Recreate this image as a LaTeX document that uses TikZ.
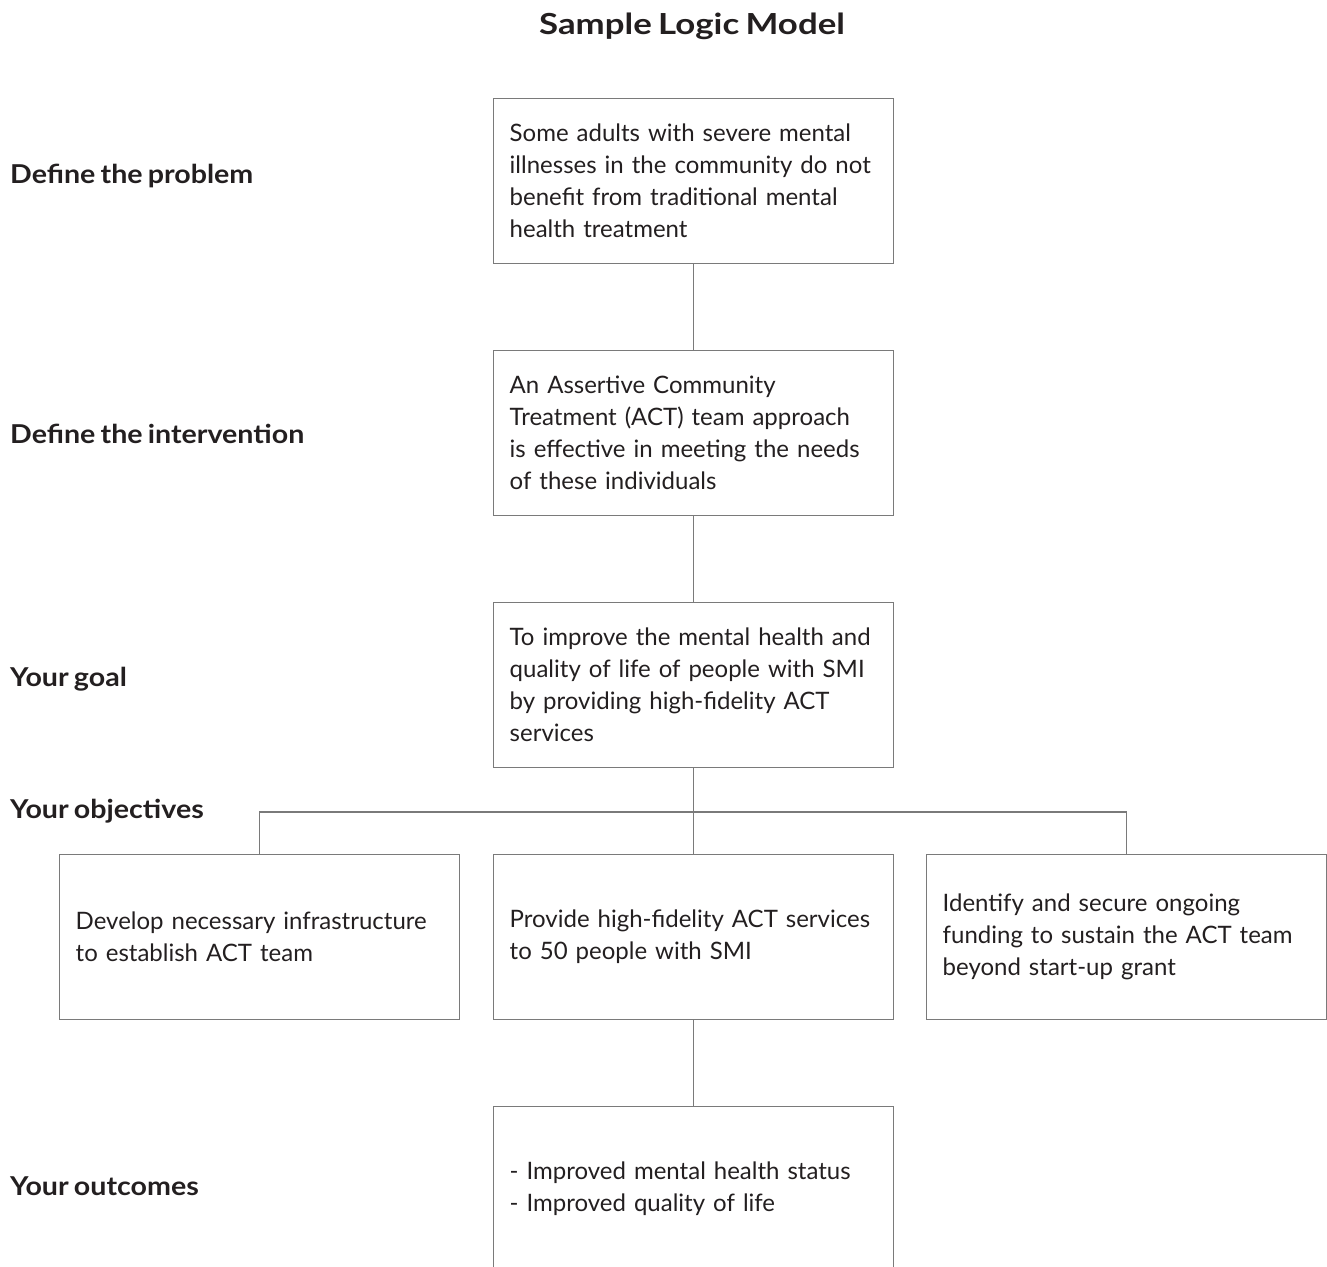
\documentclass[tikz,border=0pt]{standalone}
\usepackage{fontspec}
\setmainfont[WordSpace=0.75]{Lato}
\definecolor{linegray}{HTML}{7A7A7A}
\definecolor{txt}{HTML}{231F20}
\begin{document}
\begin{tikzpicture}[x=1pt,y=-1pt,
  box/.style={draw=linegray, line width=1.4pt, anchor=north west, text width=368pt, align=left,
    inner xsep=16pt, inner ysep=0pt, minimum height=165pt, text=txt,
    font=\fontsize{24}{32}\selectfont},
  lbl/.style={anchor=west, inner sep=0pt, text=txt, font=\bfseries\addfontfeature{FakeStretch=1.1}\fontsize{26}{30}\selectfont},
  conn/.style={draw=linegray, line width=1.4pt}]
\useasboundingbox (0,0) rectangle (1327,1266);
\node[text=txt, font=\bfseries\addfontfeature{FakeStretch=1.2}\fontsize{29}{32}\selectfont, inner sep=0pt] (title) at (692,26) {Sample Logic Model};
\node[lbl] (l1) at (10,176) {Define the problem};
\node[lbl] (l2) at (10,434) {Define the intervention};
\node[lbl] (l3) at (10,679) {Your goal};
\node[lbl] (l4) at (10,811) {Your objectives};
\node[lbl] (l5) at (10,1186) {Your outcomes};
\node[box] (p) at (493,98) {\mbox{Some adults with severe mental}\\\mbox{illnesses in the community do not}\\\mbox{benefit from traditional mental}\\\mbox{health treatment}};
\node[box] (i) at (493,350) {\mbox{An Assertive Community}\\\mbox{Treatment (ACT) team approach}\\\mbox{is effective in meeting the needs}\\\mbox{of these individuals}};
\node[box] (g) at (493,602) {\mbox{To improve the mental health and}\\\mbox{quality of life of people with SMI}\\\mbox{by providing high-fidelity ACT}\\\mbox{services}};
\node[box] (oa) at (59,854) {\mbox{Develop necessary infrastructure}\\\mbox{to establish ACT team}};
\node[box] (ob) at (493,854) {\mbox{Provide high-fidelity ACT services}\\\mbox{to 50 people with SMI}};
\node[box] (oc) at (926,854) {\mbox{Identify and secure ongoing}\\\mbox{funding to sustain the ACT team}\\\mbox{beyond start-up grant}};
\node[box] (out) at (493,1106) {\mbox{- Improved mental health status}\\\mbox{- Improved quality of life}};
\draw[conn] (p.south) -- (i.north);
\draw[conn] (i.south) -- (g.north);
\draw[conn] (g.south) -- (ob.north);
\draw[conn] (oa.north) -- ++(0,-42) -| (oc.north);
\draw[conn] (ob.south) -- (out.north);
\end{tikzpicture}
\end{document}
